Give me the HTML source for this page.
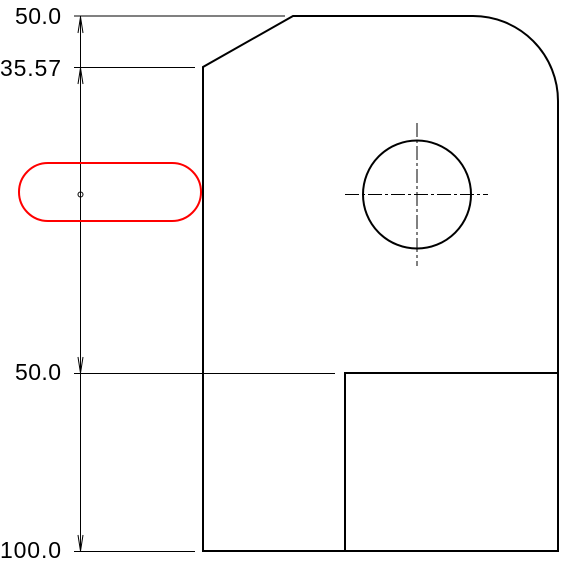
<!DOCTYPE html>
<html><head><meta charset="utf-8"><style>
html,body{margin:0;padding:0;background:#fff;width:562px;height:566px;overflow:hidden}
text{font-family:"Liberation Sans",sans-serif;font-size:23px;fill:#000}
</style></head><body>
<svg width="562" height="566" viewBox="0 0 562 566">
<g stroke="#000" stroke-width="1" fill="none">
<line x1="74" y1="16" x2="285" y2="16"/>
<line x1="74" y1="67.5" x2="195" y2="67.5"/>
<line x1="74" y1="373.5" x2="335" y2="373.5"/>
<line x1="74" y1="551.5" x2="195" y2="551.5"/>
<line x1="80.5" y1="16" x2="80.5" y2="551"/>
<path d="M78 33 L80.5 17 L83 33 M78 84 L80.5 68 L83 84 M78 357 L80.5 373 L83 357 M78 535 L80.5 551 L83 535"/>
<circle cx="80.5" cy="194.5" r="2.5"/>
</g>
<text x="61" y="24" text-anchor="end" textLength="46">50.0</text>
<text x="61" y="76" text-anchor="end" textLength="61">35.57</text>
<text x="61" y="380" text-anchor="end" textLength="46">50.0</text>
<text x="61" y="558" text-anchor="end" textLength="61">100.0</text>
<g stroke="#000" stroke-width="2" fill="none">
<path d="M203 551 L203 67 L293 16 L473 16 A85 85 0 0 1 558 101 L558 551 Z"/>
<rect x="345" y="373" width="213" height="178"/>
<circle cx="417" cy="194.5" r="54"/>
</g>
<g stroke="#000" stroke-width="1" stroke-dasharray="14,3,3,3" fill="none">
<line x1="345" y1="194.5" x2="488" y2="194.5"/>
<line x1="417" y1="123" x2="417" y2="266"/>
</g>
<rect x="19" y="163" width="182" height="58" rx="29" ry="29" fill="none" stroke="#f00" stroke-width="2"/>
</svg>
</body></html>
